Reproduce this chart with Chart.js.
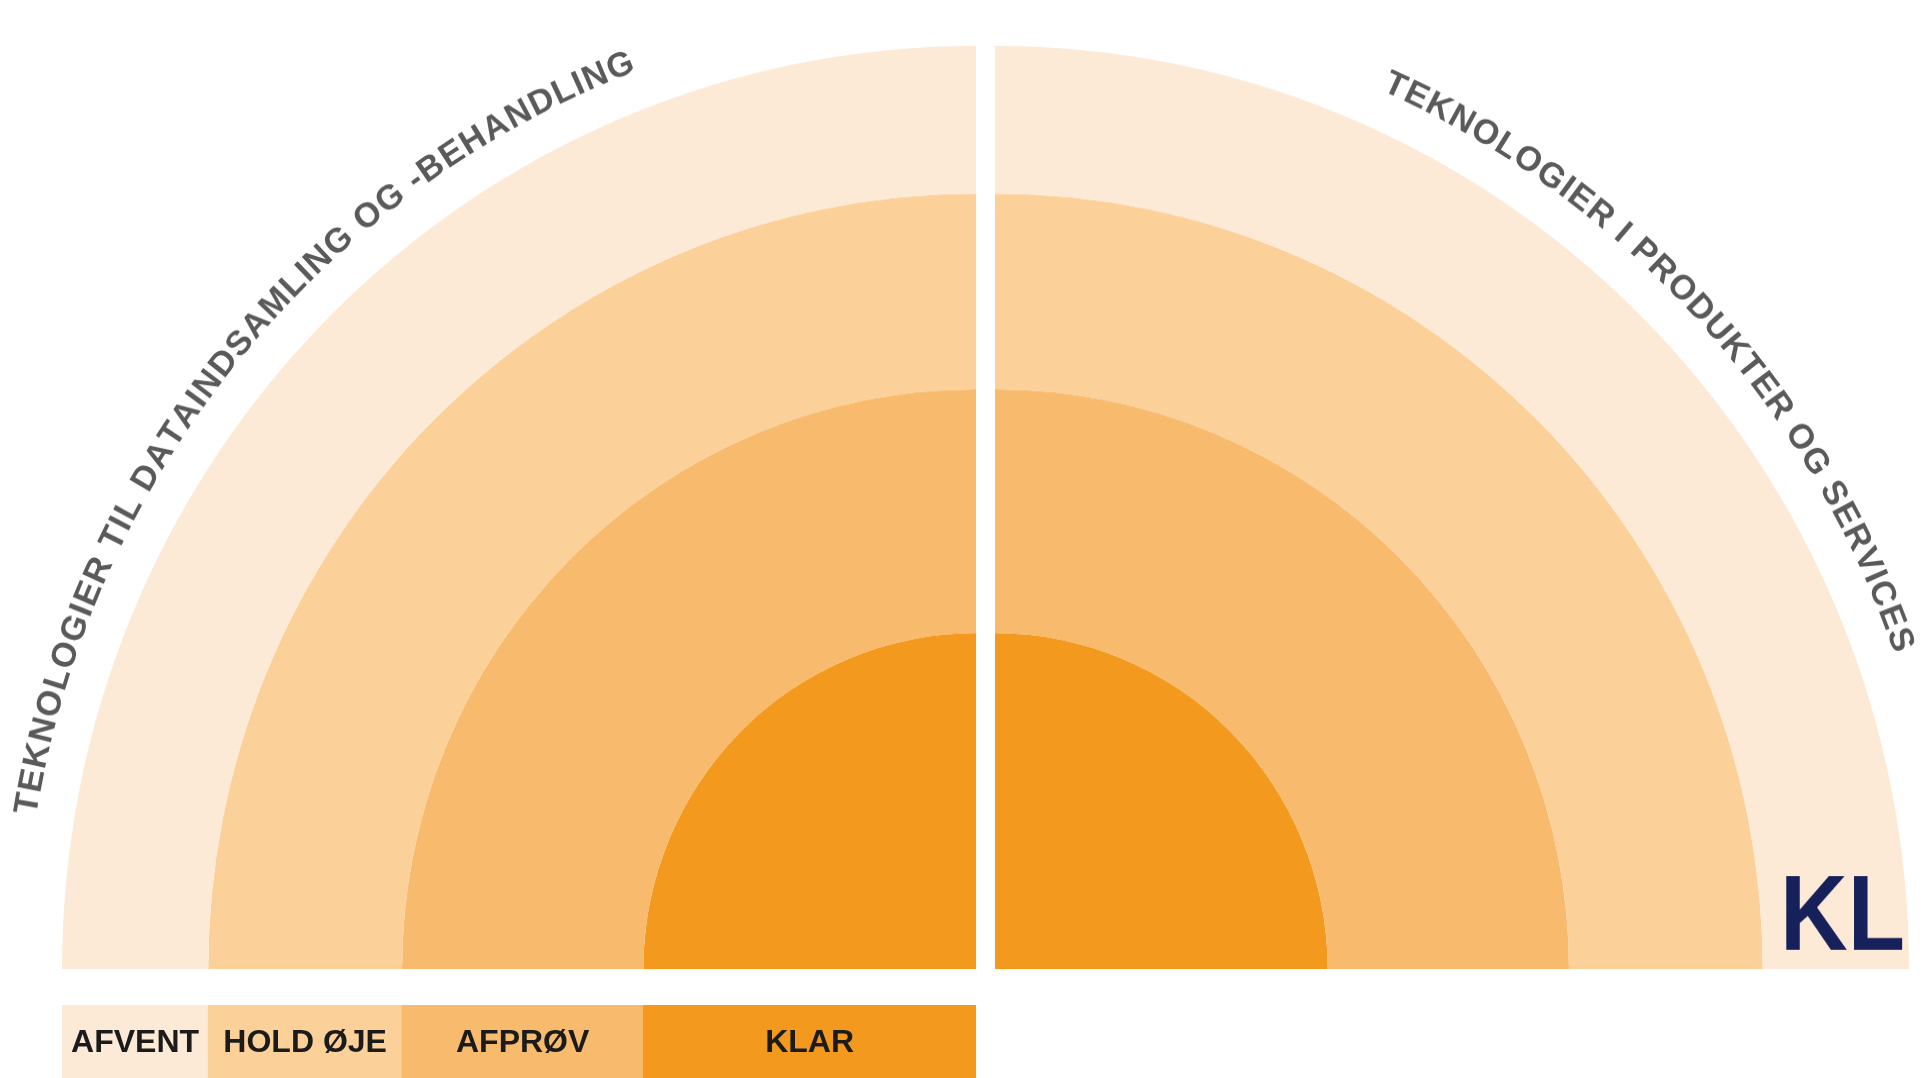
<!DOCTYPE html>
<html><head><meta charset="utf-8">
<script src="https://cdn.jsdelivr.net/npm/chart.js@4.4.0/dist/chart.umd.min.js"></script>
<style>
html,body{margin:0;padding:0;background:#fff;width:1932px;height:1078px;overflow:hidden}
canvas{position:absolute;left:0;top:0}
#left,#right{transform:scaleY(1.01);transform-origin:0 969px}
</style></head><body>
<canvas id="left" width="1932" height="1078"></canvas>
<canvas id="right" width="1932" height="1078"></canvas>
<canvas id="legend" width="1932" height="1078"></canvas>
<script>
// ---- data ----
const categories = ['AFVENT', 'HOLD ØJE', 'AFPRØV', 'KLAR'];        // outer -> inner
const ringOuterRadius = [100, 84, 62.8, 36.4];                       // % of full radius
const ringColors = ['#FDEAD6', '#FBD099', '#F8BA6D', '#F39A1E'];
const quadrantTitles = ['TEKNOLOGIER TIL DATAINDSAMLING OG -BEHANDLING', 'TEKNOLOGIER I PRODUKTER OG SERVICES'];
const titleAngles = [[-80.2, -21.7], [24.6, 70.2]];                  // first/last letter, degrees clockwise from top
const logoText = 'KL';

// ring thickness from radii
const ringThickness = ringOuterRadius.map((r, i) => r - (ringOuterRadius[i + 1] || 0));

const FONT = '"Liberation Sans", Arial, sans-serif';

const arcTitle = {
  id: 'arcTitle',
  afterDraw(chart, args, opts) {
    if (!opts.text) return;
    const arc = chart.getDatasetMeta(0).data[0];
    const cx = arc.x, cy = arc.y, R = arc.outerRadius;
    const ctx = chart.ctx;
    ctx.save();
    ctx.font = 'bold 34px ' + FONT;
    ctx.fillStyle = '#5a5a5a';
    ctx.textAlign = 'center';
    ctx.textBaseline = 'alphabetic';
    const r = R + opts.gap;
    const chars = [...opts.text];
    const w = chars.map(c => ctx.measureText(c).width);
    const n = chars.length;
    const natural = w.reduce((a, b) => a + b, 0) - w[0] / 2 - w[n - 1] / 2;
    const a0 = opts.start * Math.PI / 180, a1 = opts.end * Math.PI / 180;
    const target = (a1 - a0) * r;
    const extra = (target - natural) / (n - 1);
    let s = 0;
    for (let i = 0; i < n; i++) {
      if (i > 0) s += w[i - 1] / 2 + w[i] / 2 + extra;
      const ang = a0 + s / r;
      ctx.save();
      ctx.translate(cx, cy);
      ctx.rotate(ang);
      ctx.fillText(chars[i], 0, -r);
      ctx.restore();
    }
    ctx.restore();
  }
};

const logoPlugin = {
  id: 'logo',
  afterDraw(chart, args, opts) {
    if (!opts.text) return;
    const ctx = chart.ctx;
    ctx.save();
    ctx.font = 'bold 106px ' + FONT;
    ctx.fillStyle = '#16205A';
    ctx.textBaseline = 'alphabetic';
    ctx.textAlign = 'left';
    const nat = ctx.measureText(opts.text).width;
    ctx.translate(opts.x, opts.y);
    ctx.scale(opts.width / nat, 1);
    ctx.fillText(opts.text, 0, 0);
    ctx.restore();
  }
};

function quadrant(id, rotation, padding, titleIdx, logo) {
  return new Chart(document.getElementById(id), {
    type: 'doughnut',
    data: {
      labels: [''],
      datasets: categories.map((c, i) => ({
        label: c,
        data: [1],
        weight: ringThickness[i],
        backgroundColor: ringColors[i],
        borderWidth: 0,
        hoverOffset: 0
      }))
    },
    options: {
      responsive: false,
      animation: false,
      devicePixelRatio: 1,
      events: [],
      rotation: rotation,
      circumference: 90,
      cutout: 0,
      layout: { padding: padding },
      plugins: {
        legend: { display: false },
        tooltip: { enabled: false },
        arcTitle: { text: quadrantTitles[titleIdx], start: titleAngles[titleIdx][0], end: titleAngles[titleIdx][1], gap: 38 },
        logo: logo || {}
      }
    },
    plugins: [arcTitle, logoPlugin]
  });
}

// left quadrant: centre (976,969), radius 914
quadrant('left', -90, { left: 62, top: 55, right: 1932 - 976, bottom: 1078 - 969 }, 0);
// right quadrant: centre (995,969)
quadrant('right', 0, { left: 995, top: 55, right: 1932 - 995 - 914, bottom: 1078 - 969 }, 1,
  { text: logoText, x: 1780, y: 950, width: 125 });

// legend bar (inner -> outer from right to left, aligned with ring bands)
const legendOrder = [3, 2, 1, 0];
const legendLabels = {
  id: 'legendLabels',
  afterDatasetsDraw(chart) {
    const ctx = chart.ctx;
    ctx.save();
    ctx.font = 'bold 32px ' + FONT;
    ctx.fillStyle = '#1b1b1b';
    ctx.textAlign = 'center';
    ctx.textBaseline = 'middle';
    chart.data.datasets.forEach((ds, i) => {
      const bar = chart.getDatasetMeta(i).data[0];
      ctx.fillText(ds.label, (bar.x + bar.base) / 2, 1043);
    });
    ctx.restore();
  }
};
new Chart(document.getElementById('legend'), {
  type: 'bar',
  data: {
    labels: [''],
    datasets: legendOrder.map(i => ({
      label: categories[i],
      data: [ringThickness[i]],
      backgroundColor: ringColors[i],
      borderWidth: 0,
      barPercentage: 1,
      categoryPercentage: 1
    }))
  },
  options: {
    indexAxis: 'y',
    responsive: false,
    animation: false,
    devicePixelRatio: 1,
    events: [],
    layout: { padding: { left: 62, right: 1932 - 976, top: 1005, bottom: 0 } },
    scales: {
      x: { stacked: true, reverse: true, min: 0, max: 100, display: false },
      y: { stacked: true, display: false }
    },
    plugins: { legend: { display: false }, tooltip: { enabled: false } }
  },
  plugins: [legendLabels]
});
</script>
</body></html>
